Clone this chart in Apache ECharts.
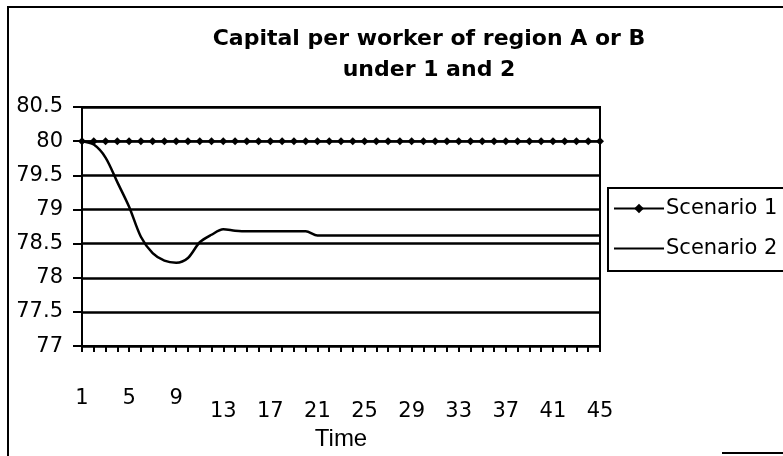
<!DOCTYPE html>
<html>
<head>
<meta charset="utf-8">
<script src="https://cdn.jsdelivr.net/npm/echarts@6/dist/echarts.min.js"></script>
<style>html,body{margin:0;padding:0;background:#fff;}#c{width:783px;height:456px;}</style>
</head>
<body>
<div id="c"></div>
<script>
var times = ['1','2','3','4','5','6','7','8','9','10','11','12','13','14','15','16','17','18','19','20','21','22','23','24','25','26','27','28','29','30','31','32','33','34','35','36','37','38','39','40','41','42','43','44','45'];
var scenario1 = [80,80,80,80,80,80,80,80,80,80,80,80,80,80,80,80,80,80,80,80,80,80,80,80,80,80,80,80,80,80,80,80,80,80,80,80,80,80,80,80,80,80,80,80,80];
var scenario2 = [80.00,79.95,79.76,79.40,79.04,78.60,78.36,78.25,78.22,78.29,78.52,78.63,78.71,78.69,78.68,78.68,78.68,78.68,78.68,78.68,78.62,78.62,78.62,78.62,78.62,78.62,78.62,78.62,78.62,78.62,78.62,78.62,78.62,78.62,78.62,78.62,78.62,78.62,78.62,78.62,78.62,78.62,78.62,78.62,78.62];
var seriesNames = ['Scenario 1','Scenario 2'];
var yTicks = {min: 77, max: 80.5, interval: 0.5};

var FONT = 'DejaVu Sans';
var chart = echarts.init(document.getElementById('c'), null, {renderer: 'canvas'});
chart.setOption({
  backgroundColor: '#fff',
  animation: false,
  title: {
    text: 'Capital per worker of region A or B\nunder 1 and 2',
    left: 424, top: 19, textAlign: 'center',
    textStyle: {fontFamily: FONT, fontSize: 22, fontWeight: 'bold', color: '#000', lineHeight: 31}
  },
  legend: {
    orient: 'vertical', left: 608, top: 188,
    padding: [9, 60, 11, 5],
    itemGap: 17, itemWidth: 50, itemHeight: 12,
    borderColor: '#000', borderWidth: 2, borderRadius: 0,
    textStyle: {fontFamily: FONT, fontSize: 21, color: '#000', lineHeight: 23, padding: [0,0,0,-3]},
    data: [
      {name: seriesNames[0]},
      {name: seriesNames[1], itemStyle: {opacity: 0}}
    ]
  },
  grid: {left: 82, right: 183, top: 107, bottom: 104, show: true, borderColor: '#000', borderWidth: 2, backgroundColor: 'transparent'},
  xAxis: {
    type: 'category', data: times, boundaryGap: false,
    name: 'Time', nameLocation: 'middle', nameGap: 62,
    nameTextStyle: {fontFamily: 'Liberation Sans', fontSize: 24, color: '#000'},
    axisLine: {lineStyle: {color: '#000', width: 2}},
    axisTick: {show: true, interval: 0, length: 6, lineStyle: {color: '#000', width: 2}},
    axisLabel: {
      interval: 3, margin: 42, color: '#000', fontFamily: FONT, fontSize: 21,
      formatter: function (v, i) { return i < 12 ? '{a|' + v + '}' : '{b|' + v + '}'; },
      rich: {
        a: {fontFamily: FONT, fontSize: 21, color: '#000'},
        b: {fontFamily: FONT, fontSize: 21, color: '#000', padding: [13, 0, 0, 0]}
      }
    },
    splitLine: {show: false}
  },
  yAxis: {
    type: 'value', min: yTicks.min, max: yTicks.max, interval: yTicks.interval,
    axisLine: {show: true, lineStyle: {color: '#000', width: 2}},
    axisTick: {show: true, length: 9, lineStyle: {color: '#000', width: 2}},
    axisLabel: {margin: 19, color: '#000', fontFamily: FONT, fontSize: 21},
    splitLine: {show: true, lineStyle: {color: '#000', width: 2.5}}
  },
  series: [
    {name: seriesNames[0], type: 'line', data: scenario1, symbol: 'diamond', symbolSize: 8, showSymbol: true, showAllSymbol: true,
     itemStyle: {color: '#000'}, lineStyle: {color: '#000', width: 2}, z: 3},
    {name: seriesNames[1], type: 'line', data: scenario2, symbol: 'none', smooth: 0.3,
     itemStyle: {color: '#000'}, lineStyle: {color: '#000', width: 2.5}, z: 2}
  ],
  graphic: [
    {type: 'rect', shape: {x: 8, y: 7, width: 900, height: 600}, style: {fill: null, stroke: '#000', lineWidth: 2}, silent: true},
    {type: 'line', shape: {x1: 722, y1: 453, x2: 783, y2: 453}, style: {stroke: '#000', lineWidth: 2}, silent: true}
  ]
});
</script>
</body>
</html>
